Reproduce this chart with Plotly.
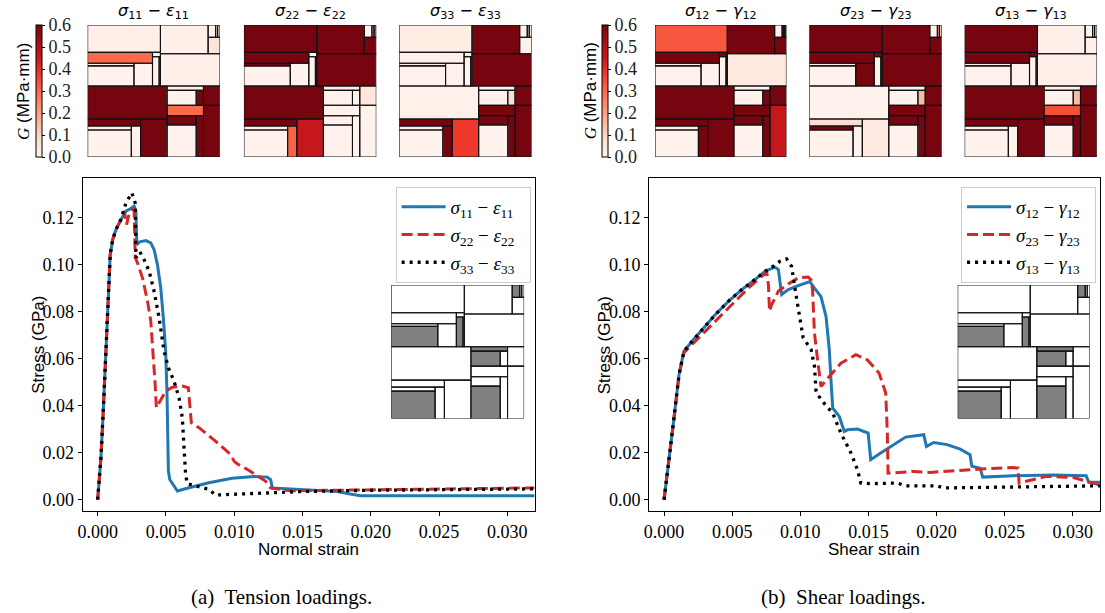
import numpy as np
import plotly.graph_objects as go

# ---------------------------------------------------------------------------
# Tile layout of the cross-section (unit square, y measured from the top)
# ---------------------------------------------------------------------------
TILE_X0 = [0.00, 0.00, 0.00, 0.00, 0.35, 0.49, 0.49, 0.54,
           0.55, 0.91, 0.967, 0.982, 0.91, 0.55,
           0.00, 0.00, 0.00, 0.00, 0.33, 0.40,
           0.60, 0.60, 0.82, 0.875, 0.60, 0.875, 0.60, 0.60, 0.82]
TILE_X1 = [0.55, 0.49, 0.35, 0.35, 0.49, 0.55, 0.54, 0.55,
           0.91, 0.967, 0.982, 1.00, 1.00, 1.00,
           0.60, 0.40, 0.33, 0.33, 0.40, 0.60,
           0.875, 0.82, 0.875, 1.00, 0.875, 1.00, 0.82, 0.82, 0.875]
TILE_Y0 = [0.00, 0.2075, 0.29, 0.31, 0.29, 0.2075, 0.24, 0.24,
           0.00, 0.00, 0.00, 0.00, 0.0925, 0.2175,
           0.4625, 0.7125, 0.765, 0.795, 0.765, 0.7125,
           0.4625, 0.495, 0.495, 0.4625, 0.6075, 0.6075, 0.6875, 0.7575, 0.6875]
TILE_Y1 = [0.2075, 0.29, 0.31, 0.4625, 0.4625, 0.24, 0.4625, 0.4625,
           0.2175, 0.0925, 0.0925, 0.0925, 0.2175, 0.4625,
           0.7125, 0.765, 0.795, 1.00, 1.00, 1.00,
           0.495, 0.6075, 0.6075, 0.6075, 0.6875, 1.00, 0.7575, 1.00, 1.00]

# Fracture energy G (MPa·mm) released in every tile, per loading case
G_11 = [0.02, 0.30, 0.01, 0.01, 0.01, 0.01, 0.01, 0.01,
        0.02, 0.01, 0.01, 0.01, 0.06, 0.02,
        0.60, 0.60, 0.02, 0.01, 0.01, 0.60,
        0.02, 0.01, 0.60, 0.60, 0.30, 0.60, 0.60, 0.01, 0.60]
G_22 = [0.60, 0.60, 0.60, 0.01, 0.01, 0.01, 0.01, 0.60,
        0.60, 0.01, 0.01, 0.38, 0.60, 0.60,
        0.60, 0.60, 0.02, 0.01, 0.31, 0.46,
        0.02, 0.01, 0.01, 0.05, 0.01, 0.01, 0.01, 0.01, 0.01]
G_33 = [0.03, 0.01, 0.01, 0.01, 0.01, 0.04, 0.01, 0.01,
        0.60, 0.01, 0.01, 0.08, 0.01, 0.60,
        0.015, 0.60, 0.02, 0.01, 0.60, 0.38,
        0.01, 0.01, 0.08, 0.60, 0.60, 0.60, 0.60, 0.01, 0.60]
G_12 = [0.33, 0.60, 0.01, 0.01, 0.01, 0.60, 0.01, 0.60,
        0.60, 0.01, 0.60, 0.60, 0.60, 0.04,
        0.60, 0.60, 0.02, 0.01, 0.60, 0.60,
        0.01, 0.01, 0.60, 0.60, 0.60, 0.46, 0.60, 0.01, 0.60]
G_23 = [0.60, 0.60, 0.01, 0.01, 0.60, 0.60, 0.01, 0.60,
        0.60, 0.01, 0.15, 0.15, 0.60, 0.60,
        0.01, 0.08, 0.60, 0.01, 0.01, 0.04,
        0.01, 0.01, 0.15, 0.60, 0.60, 0.60, 0.60, 0.01, 0.60]
G_13 = [0.60, 0.60, 0.01, 0.01, 0.01, 0.60, 0.01, 0.01,
        0.02, 0.01, 0.01, 0.01, 0.02, 0.02,
        0.60, 0.60, 0.02, 0.01, 0.01, 0.60,
        0.01, 0.01, 0.15, 0.60, 0.34, 0.60, 0.60, 0.01, 0.60]

# Phase of every tile (1 = inclusion, 0 = matrix)
PHASE = [0, 0, 0, 1, 0, 0, 1, 0,
         0, 1, 0, 0, 0, 0,
         0, 0, 0, 1, 0, 0,
         1, 1, 0, 0, 0, 0, 0, 1, 0]

G_TICKS = [0.0, 0.1, 0.2, 0.3, 0.4, 0.5, 0.6]

# ---------------------------------------------------------------------------
# Stress-strain responses
# ---------------------------------------------------------------------------
eps_11 = [0, 0.00024, 0.00041, 0.00056, 0.00068, 0.0008, 0.00092, 0.0011, 0.00134, 0.0017,
          0.00207, 0.00243, 0.00267, 0.0028, 0.00287, 0.00309, 0.00353, 0.00389, 0.00413,
          0.00438, 0.00462, 0.00481, 0.00498, 0.00508, 0.00513, 0.00518, 0.00528, 0.00552,
          0.00584, 0.00669, 0.00814, 0.00985, 0.01145, 0.01242, 0.01267, 0.01279, 0.01509,
          0.01753, 0.0185, 0.01923, 0.032]
sig_11 = [0, 0.0178, 0.0377, 0.0575, 0.0773, 0.0943, 0.1042, 0.1105, 0.1148, 0.119,
          0.1226, 0.1237, 0.1247, 0.1226, 0.1084, 0.1096, 0.1101, 0.1091, 0.1063,
          0.0999, 0.09, 0.0773, 0.0631, 0.0447, 0.0235, 0.0122, 0.0086, 0.0065,
          0.0037, 0.0051, 0.0072, 0.0091, 0.0099, 0.0096, 0.0085, 0.005, 0.0042,
          0.0035, 0.0024, 0.0017, 0.0017]

eps_22 = [0, 0.00024, 0.00041, 0.00056, 0.00068, 0.0008, 0.00092, 0.0011, 0.00134, 0.0017,
          0.00195, 0.00212, 0.00226, 0.00255, 0.00267, 0.00275, 0.00292, 0.00328, 0.00365,
          0.00389, 0.00406, 0.00421, 0.0043, 0.00455, 0.00498, 0.00547, 0.0062, 0.00664,
          0.00676, 0.00686, 0.00742, 0.00863, 0.00972, 0.0100, 0.01024, 0.0110, 0.01231,
          0.01265, 0.01413, 0.0199, 0.032]
sig_22 = [0, 0.0178, 0.0377, 0.0575, 0.0773, 0.0943, 0.1042, 0.1105, 0.1148, 0.119,
          0.1226, 0.1169, 0.1205, 0.1233, 0.1233, 0.1028, 0.1006, 0.0943, 0.0844,
          0.0759, 0.0631, 0.049, 0.0391, 0.0419, 0.0461, 0.0478, 0.0483, 0.0476,
          0.0405, 0.0327, 0.0306, 0.0249, 0.0193, 0.0163, 0.0152, 0.0127, 0.0078,
          0.005, 0.0038, 0.0042, 0.005]

eps_33 = [0, 0.00024, 0.00041, 0.00056, 0.00068, 0.0008, 0.00092, 0.0011, 0.00134, 0.0017,
          0.00207, 0.0025, 0.00275, 0.0028, 0.00309, 0.0034, 0.00377, 0.00413, 0.0045,
          0.00486, 0.00518, 0.00559, 0.00596, 0.0062, 0.00632, 0.00644, 0.00656, 0.00742,
          0.00814, 0.00863, 0.0111, 0.0126, 0.0151, 0.0199, 0.032]
sig_33 = [0, 0.0178, 0.0377, 0.0575, 0.0773, 0.0943, 0.1042, 0.1105, 0.1148, 0.119,
          0.126, 0.1304, 0.1261, 0.1028, 0.1053, 0.102, 0.0971, 0.0886, 0.0773,
          0.0631, 0.056, 0.0504, 0.0433, 0.0348, 0.0235, 0.0108, 0.0068, 0.0054,
          0.0044, 0.002, 0.0025, 0.0031, 0.0035, 0.004, 0.0046]

gam_12 = [0, 0.00036, 0.00073, 0.0011, 0.00146, 0.00207, 0.0028, 0.00377, 0.00474, 0.00571,
          0.00669, 0.00742, 0.00814, 0.00839, 0.00863, 0.00912, 0.00985, 0.0107, 0.01104,
          0.01152, 0.01189, 0.01213, 0.01225, 0.01238, 0.01286, 0.01323, 0.01347, 0.0142,
          0.01498, 0.01517, 0.0159, 0.01688, 0.01773, 0.01906, 0.01926, 0.01979, 0.02004,
          0.02077, 0.02174, 0.02246, 0.02259, 0.0232, 0.02339, 0.02563, 0.02854, 0.03098,
          0.03117, 0.032]
tau_12 = [0, 0.0164, 0.0348, 0.0532, 0.0631, 0.0674, 0.0723, 0.0787, 0.0844, 0.0893,
          0.0936, 0.0971, 0.0988, 0.0978, 0.0872, 0.0893, 0.091, 0.0927, 0.0899,
          0.0863, 0.0778, 0.0637, 0.051, 0.0389, 0.0354, 0.029, 0.0297, 0.03,
          0.0283, 0.017, 0.0198, 0.0234, 0.0266, 0.0276, 0.0226, 0.0243, 0.0241,
          0.0234, 0.0215, 0.0191, 0.0142, 0.0134, 0.0096, 0.0102, 0.0105, 0.0102,
          0.0074, 0.0074]

gam_23 = [0, 0.00036, 0.00073, 0.0011, 0.00146, 0.00255, 0.00377, 0.00498, 0.0062, 0.00717,
          0.00754, 0.00766, 0.00774, 0.0079, 0.00839, 0.00912, 0.00985, 0.01058, 0.0108,
          0.0109, 0.01104, 0.01127, 0.01152, 0.01213, 0.01298, 0.01408, 0.01493, 0.01578,
          0.01627, 0.01639, 0.01644, 0.01833, 0.01955, 0.0232, 0.02563, 0.02599, 0.02606,
          0.02806, 0.03, 0.032]
tau_23 = [0, 0.0164, 0.0348, 0.0532, 0.0625, 0.0688, 0.0759, 0.0829, 0.09, 0.095,
          0.0964, 0.0914, 0.0801, 0.0829, 0.0886, 0.0917, 0.0943, 0.0946, 0.0934,
          0.0892, 0.0708, 0.0594, 0.0481, 0.0524, 0.058, 0.0616, 0.0594, 0.0538,
          0.0453, 0.0283, 0.0113, 0.012, 0.0116, 0.013, 0.0137, 0.0134, 0.0071,
          0.0099, 0.0095, 0.0062]

gam_13 = [0, 0.00036, 0.00073, 0.0011, 0.00146, 0.00207, 0.0028, 0.00377, 0.00474, 0.00571,
          0.00669, 0.00742, 0.00814, 0.00851, 0.009, 0.00936, 0.0096, 0.00997, 0.01021,
          0.0108, 0.01104, 0.01116, 0.01152, 0.01238, 0.01298, 0.01372, 0.0142, 0.01444,
          0.01517, 0.01711, 0.01773, 0.02004, 0.02052, 0.02563, 0.032]
tau_13 = [0, 0.0164, 0.0348, 0.0532, 0.0631, 0.0674, 0.0723, 0.0787, 0.0844, 0.0893,
          0.0936, 0.0971, 0.0996, 0.1013, 0.1023, 0.0992, 0.09, 0.0773, 0.0688,
          0.0637, 0.0566, 0.046, 0.0425, 0.0368, 0.0283, 0.0198, 0.0127, 0.0071,
          0.0068, 0.0071, 0.0059, 0.0059, 0.005, 0.0054, 0.0059]

STRAIN_TICKS = [0.0, 0.005, 0.010, 0.015, 0.020, 0.025, 0.030]
STRESS_TICKS = [0.0, 0.02, 0.04, 0.06, 0.08, 0.10, 0.12]

# ---------------------------------------------------------------------------
W, H = 1105, 613
SERIF = "Liberation Serif"
SANS = "Liberation Sans"
MATH_SANS = "DejaVu Sans"
BLUE, RED, BLACK = "#1f77b4", "#d62728", "#000000"

REDS = [[0.0, "#fff5f0"], [0.125, "#fee0d2"], [0.25, "#fcbba1"], [0.375, "#fc9272"],
        [0.5, "#fb6a4a"], [0.625, "#ef3b2c"], [0.75, "#cb181d"], [0.875, "#a50f15"],
        [1.0, "#760510"]]


def px_x(p):
    return p / W


def px_y(p):
    return 1 - p / H


x_edges = np.unique(np.r_[TILE_X0, TILE_X1])
y_edges = np.unique(np.r_[TILE_Y0, TILE_Y1])
x_mid = 0.5 * (x_edges[:-1] + x_edges[1:])
y_mid = 0.5 * (y_edges[:-1] + y_edges[1:])


def tile_grid(values):
    z = np.full((len(y_mid), len(x_mid)), np.nan)
    for k, v in enumerate(values):
        mx = (x_mid > TILE_X0[k]) & (x_mid < TILE_X1[k])
        my = (y_mid > TILE_Y0[k]) & (y_mid < TILE_Y1[k])
        z[np.ix_(my, mx)] = v
    return z


def tile_outline():
    xs, ys = [], []
    for a, b, c, d in zip(TILE_X0, TILE_X1, TILE_Y0, TILE_Y1):
        xs += [a, b, b, a, a, None]
        ys += [c, c, d, d, c, None]
    return xs, ys


ox, oy = tile_outline()
fig = go.Figure()


def add_tiles(values, k, coloraxis=None, colorscale=None):
    kw = dict(coloraxis=coloraxis) if coloraxis else dict(
        colorscale=colorscale, zmin=0, zmax=1, showscale=False)
    fig.add_trace(go.Heatmap(x=x_edges, y=y_edges, z=tile_grid(values),
                             xaxis=f"x{k}", yaxis=f"y{k}", hoverinfo="skip", **kw))
    fig.add_trace(go.Scatter(x=ox, y=oy, mode="lines", xaxis=f"x{k}", yaxis=f"y{k}",
                             line=dict(color="#111111", width=1.1), showlegend=False,
                             hoverinfo="skip", cliponaxis=False))


# tension maps (axes 3-5), shear maps (axes 6-8)
maps = [(G_11, 3, "coloraxis", "σ", "ε", "11"), (G_22, 4, "coloraxis", "σ", "ε", "22"),
        (G_33, 5, "coloraxis", "σ", "ε", "33"), (G_12, 6, "coloraxis2", "σ", "γ", "12"),
        (G_23, 7, "coloraxis2", "σ", "γ", "23"), (G_13, 8, "coloraxis2", "σ", "γ", "13")]
for vals, k, ca, _, _, _ in maps:
    add_tiles(vals, k, coloraxis=ca)

# microstructure insets
add_tiles(PHASE, 9, colorscale=[[0, "white"], [1, "#808080"]])
add_tiles(PHASE, 10, colorscale=[[0, "white"], [1, "#808080"]])

# stress-strain curves
line_specs = [
    (eps_11, sig_11, BLUE, "solid", 3, "σ", "ε", "11", "x", "y", "legend"),
    (eps_22, sig_22, RED, "11px,5px", 3, "σ", "ε", "22", "x", "y", "legend"),
    (eps_33, sig_33, BLACK, "3px,5px", 3.3, "σ", "ε", "33", "x", "y", "legend"),
    (gam_12, tau_12, BLUE, "solid", 3, "σ", "γ", "12", "x2", "y2", "legend2"),
    (gam_23, tau_23, RED, "11px,5px", 3, "σ", "γ", "23", "x2", "y2", "legend2"),
    (gam_13, tau_13, BLACK, "3px,5px", 3.3, "σ", "γ", "13", "x2", "y2", "legend2"),
]
for xs, ys, col, dash, lw, s, e, ij, xa, ya, lg in line_specs:
    fig.add_trace(go.Scatter(
        x=xs, y=ys, mode="lines", xaxis=xa, yaxis=ya, legend=lg,
        line=dict(color=col, width=lw, dash=dash),
        name=f"<i>{s}</i><sub>{ij}</sub> − <i>{e}</i><sub>{ij}</sub>  "))

# ---------------------------------------------------------------------------
layout = dict(width=W, height=H, margin=dict(l=0, r=0, t=0, b=0),
              paper_bgcolor="white", plot_bgcolor="white", showlegend=True)

main_axis = dict(showline=True, mirror=True, linecolor="black", linewidth=1,
                 ticks="outside", ticklen=4, tickcolor="black", showgrid=False,
                 zeroline=False, tickfont=dict(family=SERIF, size=18, color="black"))

main_dom_y = [px_y(511), px_y(178)]
for k, (l, r) in [("", (78, 532)), ("2", (647, 1100))]:
    layout["xaxis" + k] = dict(main_axis, domain=[px_x(l), px_x(r)], anchor="y" + k,
                               range=[-0.0011, 0.032], tickvals=STRAIN_TICKS,
                               ticktext=[f"{t:.3f}" for t in STRAIN_TICKS])
    layout["yaxis" + k] = dict(main_axis, domain=main_dom_y, anchor="x" + k,
                               range=[-0.0048, 0.1367], tickvals=STRESS_TICKS,
                               ticktext=[f"{t:.2f}" for t in STRESS_TICKS])

tile_axis = dict(showticklabels=False, ticks="", showgrid=False, zeroline=False,
                 showline=False)
map_cols = {3: (83, 216), 4: (240, 373), 5: (396, 529),
            6: (653, 785), 7: (808, 941), 8: (964, 1097)}
for k, (l, r) in map_cols.items():
    layout[f"xaxis{k}"] = dict(tile_axis, domain=[px_x(l), px_x(r)], range=[0, 1],
                               anchor=f"y{k}")
    layout[f"yaxis{k}"] = dict(tile_axis, domain=[px_y(157), px_y(25)], range=[1, 0],
                               anchor=f"x{k}")
for k, (l, r) in {9: (388, 521.5), 10: (957, 1089.5)}.items():
    layout[f"xaxis{k}"] = dict(tile_axis, domain=[px_x(l), px_x(r)], range=[0, 1],
                               anchor=f"y{k}")
    layout[f"yaxis{k}"] = dict(tile_axis, domain=[px_y(418.5), px_y(285)], range=[1, 0],
                               anchor=f"x{k}")


def colorbar_at(left):
    return dict(x=px_x(left), xanchor="left", y=px_y(25), yanchor="top",
                len=132 / H, lenmode="fraction", thickness=6, outlinewidth=1,
                outlinecolor="black", tickvals=G_TICKS,
                ticktext=[f"{t:.1f}" for t in G_TICKS], ticks="outside", ticklen=3,
                tickcolor="black", tickfont=dict(family=SERIF, size=18, color="#222"),
                xpad=0, ypad=0)


layout["coloraxis"] = dict(colorscale=REDS, cmin=0, cmax=0.6, colorbar=colorbar_at(31))
layout["coloraxis2"] = dict(colorscale=REDS, cmin=0, cmax=0.6, colorbar=colorbar_at(600))

legend_style = dict(yanchor="top", xanchor="right", bgcolor="white",
                    bordercolor="#cccccc", borderwidth=1, tracegroupgap=0,
                    itemwidth=44, font=dict(family=SERIF, size=19, color="black"))
layout["legend"] = dict(legend_style, x=px_x(528), y=px_y(187))
layout["legend2"] = dict(legend_style, x=px_x(1096), y=px_y(187))


def note(x, y, text, family, size, angle=0):
    return dict(x=px_x(x), y=px_y(y), xref="paper", yref="paper", text=text,
                xanchor="center", yanchor="middle", textangle=angle, showarrow=False,
                font=dict(family=family, size=size, color="black"))


ann = []
for vals, k, _, s, e, ij in maps:
    l, r = map_cols[k]
    ann.append(note((l + r) / 2, 12,
                    f"<i>{s}</i><sub>{ij}</sub> − <i>{e}</i><sub>{ij}</sub>",
                    MATH_SANS, 16))
for cx, lbl in [(305, "Normal strain"), (873, "Shear strain")]:
    ann.append(note(cx, 549, lbl, SANS, 17))
for cx in (33, 602):
    ann.append(note(cx, 345, "Stress (GPa)", SANS, 17, -90))
for cx in (18, 588):
    ann.append(note(cx, 91, f"<span style='font-family:{SERIF}'><i>G</i></span> (MPa·mm)",
                    SANS, 17, -90))
for cx, lbl in [(278, "(a)  Tension loadings."), (842, "(b)  Shear loadings.")]:
    ann.append(note(cx, 597, lbl, SERIF, 21))
layout["annotations"] = ann

fig.update_layout(**layout)
fig.write_html("out.html")
